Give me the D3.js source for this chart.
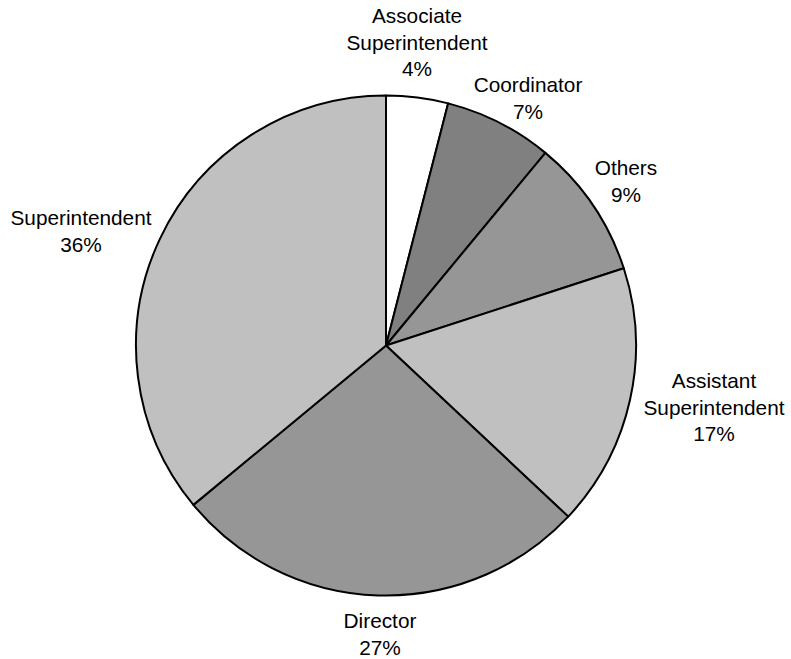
<!DOCTYPE html>
<html><head><meta charset="utf-8">
<script src="https://cdn.jsdelivr.net/npm/d3@7"></script>
<style>body{margin:0;background:#fff}svg{display:block}</style>
</head><body>
<svg id="chart" width="791" height="659"></svg>
<script>
const categories = ["Associate Superintendent","Coordinator","Others","Assistant Superintendent","Director","Superintendent"];
const labelLines = [["Associate","Superintendent"],["Coordinator"],["Others"],["Assistant","Superintendent"],["Director"],["Superintendent"]];
const values = [4,7,9,17,27,36];
const colors = ["#ffffff","#808080","#969696","#c0c0c0","#969696","#c0c0c0"];
// label anchor: [x, baseline of first line]
const labelPos = [[417,23],[528,92],[626,175],[714,388],[380,628],[81,225]];

const svg = d3.select("#chart");
const cx = 386, cy = 345.5, R = 250;
const pie = d3.pie().sort(null).value(d => d)(values);
const arc = d3.arc().innerRadius(0).outerRadius(R);
const g = svg.append("g").attr("transform", `translate(${cx},${cy})`);
g.selectAll("path").data(pie).join("path")
  .attr("d", arc)
  .attr("fill", (d,i) => colors[i])
  .attr("stroke", "#000")
  .attr("stroke-width", 2)
  .attr("stroke-linejoin", "round");

const lh = 26.5;
const lbl = svg.append("g").attr("font-family", "'Liberation Sans', Arial, sans-serif")
  .attr("font-size", 20.8).attr("fill", "#000").attr("text-anchor", "middle");
values.forEach((v, i) => {
  const t = lbl.append("text").attr("x", labelPos[i][0]).attr("y", labelPos[i][1]);
  const lines = labelLines[i].concat([v + "%"]);
  lines.forEach((s, k) => {
    t.append("tspan").attr("x", labelPos[i][0]).attr("y", labelPos[i][1] + k * lh).text(s);
  });
});
</script>
</body></html>
